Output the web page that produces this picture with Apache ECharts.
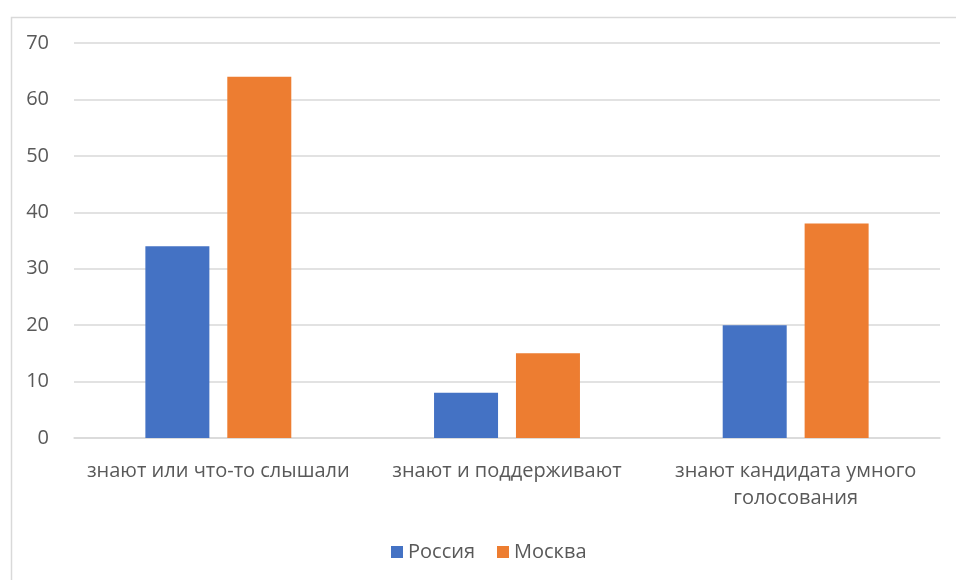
<!DOCTYPE html>
<html><head><meta charset="utf-8">
<script src="https://cdn.jsdelivr.net/npm/echarts@6/dist/echarts.min.js"></script>
<style>html,body{margin:0;padding:0;background:#fff}#c{width:956px;height:580px}</style>
</head><body><div id="c"></div>
<script>
const categories = ["знают или что-то слышали", "знают и поддерживают", "знают кандидата умного\nголосования"];
const russia = [34, 8, 20];
const moscow = [64, 15, 38];
const seriesNames = ["Россия", "Москва"];
const FONT = "'Open Sans', 'Noto Sans', sans-serif";
const chart = echarts.init(document.getElementById('c'), null, {renderer: 'canvas'});
chart.setOption({
  animation: false,
  backgroundColor: '#fff',
  textStyle: {fontFamily: FONT},
  graphic: [{type: 'rect', left: 9, top: 15, shape: {width: 2000, height: 2000}, style: {fill: 'none', stroke: '#d9d9d9', lineWidth: 1.5}, silent: true}],
  grid: {left: 74, right: 16, top: 43, bottom: 142, containLabel: false},
  legend: {
    bottom: 13, left: 386, icon: 'rect', itemWidth: 12, itemHeight: 12, itemGap: 22,
    textStyle: {fontSize: 20, color: '#595959', fontFamily: FONT},
    data: seriesNames
  },
  xAxis: {
    type: 'category', data: categories,
    axisLine: {lineStyle: {color: '#d9d9d9', width: 1.5}},
    axisTick: {show: false},
    axisLabel: {fontSize: 20, color: '#595959', margin: 20, lineHeight: 27, fontFamily: FONT, interval: 0}
  },
  yAxis: {
    type: 'value', min: 0, max: 70, interval: 10,
    axisLine: {show: false}, axisTick: {show: false},
    axisLabel: {fontSize: 20, color: '#595959', margin: 25, fontFamily: FONT},
    splitLine: {lineStyle: {color: '#d9d9d9', width: 1.5}}
  },
  series: [
    {name: seriesNames[0], type: 'bar', data: russia, barWidth: 64, barGap: '28%', itemStyle: {color: '#4472c4'}},
    {name: seriesNames[1], type: 'bar', data: moscow, barWidth: 64, itemStyle: {color: '#ed7d31'}}
  ]
});
</script></body></html>
